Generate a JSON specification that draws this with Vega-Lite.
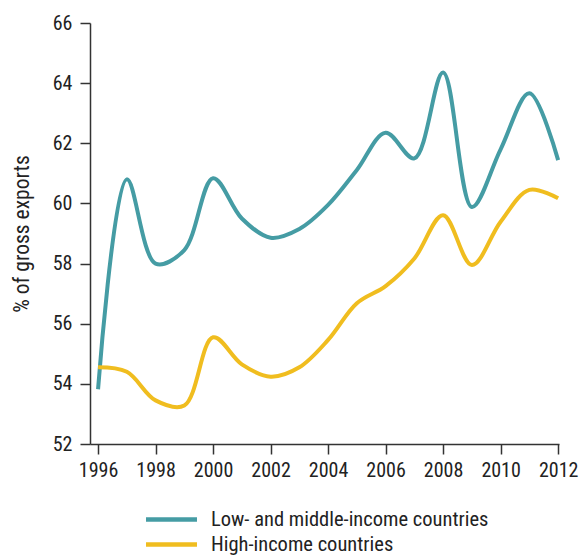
{
  "$schema": "https://vega.github.io/schema/vega-lite/v6.json",
  "width": 469,
  "height": 421,
  "autosize": {"type": "none"},
  "padding": {"left": 90, "top": 23, "right": 20, "bottom": 114},
  "config": {
    "view": {"stroke": null},
    "font": "Roboto Condensed, Roboto",
    "axis": {"grid": false, "domainColor": "#333", "tickColor": "#333", "domainWidth": 1.5, "tickWidth": 1.5, "labelColor": "#222", "titleColor": "#222", "labelFontSize": 20, "titleFontSize": 21.5, "titleFontWeight": "normal", "labelFont": "Roboto Condensed, Roboto", "titleFont": "Roboto Condensed, Roboto", "labelOverlap": false, "labelFlush": false},
    "legend": {"labelFont": "Roboto Condensed, Roboto", "labelFontSize": 20.5, "labelColor": "#222", "labelLimit": 400}
  },
  "data": {
    "values": [
      {"year": 1996, "group": "Low- and middle-income countries", "value": 53.82},
      {"year": 1997, "group": "Low- and middle-income countries", "value": 60.8},
      {"year": 1998, "group": "Low- and middle-income countries", "value": 58.0},
      {"year": 1999, "group": "Low- and middle-income countries", "value": 58.45},
      {"year": 2000, "group": "Low- and middle-income countries", "value": 60.84},
      {"year": 2001, "group": "Low- and middle-income countries", "value": 59.5},
      {"year": 2002, "group": "Low- and middle-income countries", "value": 58.86},
      {"year": 2003, "group": "Low- and middle-income countries", "value": 59.15},
      {"year": 2004, "group": "Low- and middle-income countries", "value": 59.95},
      {"year": 2005, "group": "Low- and middle-income countries", "value": 61.11},
      {"year": 2006, "group": "Low- and middle-income countries", "value": 62.35},
      {"year": 2007, "group": "Low- and middle-income countries", "value": 61.5},
      {"year": 2008, "group": "Low- and middle-income countries", "value": 64.35},
      {"year": 2009, "group": "Low- and middle-income countries", "value": 59.88},
      {"year": 2010, "group": "Low- and middle-income countries", "value": 61.8},
      {"year": 2011, "group": "Low- and middle-income countries", "value": 63.66},
      {"year": 2012, "group": "Low- and middle-income countries", "value": 61.44},
      {"year": 1996, "group": "High-income countries", "value": 54.55},
      {"year": 1997, "group": "High-income countries", "value": 54.4},
      {"year": 1998, "group": "High-income countries", "value": 53.45},
      {"year": 1999, "group": "High-income countries", "value": 53.28},
      {"year": 2000, "group": "High-income countries", "value": 55.55},
      {"year": 2001, "group": "High-income countries", "value": 54.65},
      {"year": 2002, "group": "High-income countries", "value": 54.24},
      {"year": 2003, "group": "High-income countries", "value": 54.55},
      {"year": 2004, "group": "High-income countries", "value": 55.46},
      {"year": 2005, "group": "High-income countries", "value": 56.68},
      {"year": 2006, "group": "High-income countries", "value": 57.25},
      {"year": 2007, "group": "High-income countries", "value": 58.17},
      {"year": 2008, "group": "High-income countries", "value": 59.61},
      {"year": 2009, "group": "High-income countries", "value": 57.95},
      {"year": 2010, "group": "High-income countries", "value": 59.39},
      {"year": 2011, "group": "High-income countries", "value": 60.45},
      {"year": 2012, "group": "High-income countries", "value": 60.17}
    ]
  },
  "mark": {"type": "line", "interpolate": "catmull-rom", "strokeWidth": 4, "strokeCap": "butt", "strokeJoin": "round"},
  "encoding": {
    "x": {
      "field": "year", "type": "quantitative",
      "scale": {"domain": [1995.72, 2012.03], "nice": false, "zero": false},
      "axis": {"title": null, "values": [1996, 1998, 2000, 2002, 2004, 2006, 2008, 2010, 2012], "format": "d", "tickSize": 10, "labelPadding": 6}
    },
    "y": {
      "field": "value", "type": "quantitative",
      "scale": {"domain": [52, 66], "nice": false, "zero": false},
      "axis": {"title": "% of gross exports", "values": [52, 54, 56, 58, 60, 62, 64, 66], "tickSize": 10, "labelPadding": 8, "titlePadding": 19}
    },
    "color": {
      "field": "group", "type": "nominal",
      "scale": {"domain": ["Low- and middle-income countries", "High-income countries"], "range": ["#459ca4", "#f0bd1f"]},
      "legend": {"title": null, "orient": "none", "legendX": 68, "legendY": 483, "direction": "vertical", "symbolType": "M-2.28,0H2.28", "symbolSize": 500, "symbolStrokeWidth": 4.5, "labelOffset": 26, "rowPadding": 1}
    }
  }
}
